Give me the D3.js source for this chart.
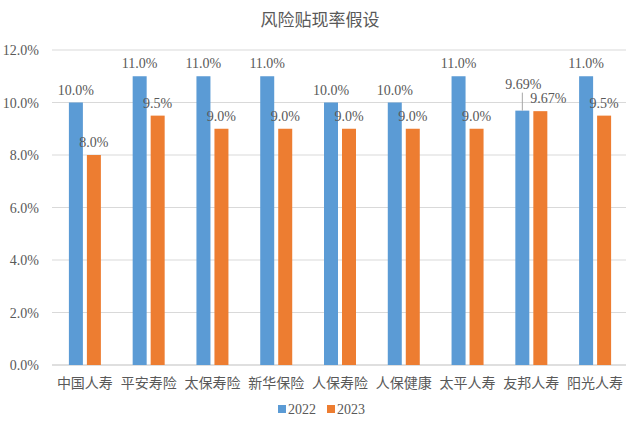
<!DOCTYPE html>
<html>
<head>
<meta charset="utf-8">
<script src="https://cdn.jsdelivr.net/npm/d3@7"></script>
<style>
  body { margin: 0; background: #fff; }
  text { font-family: "Liberation Serif", "Noto Sans CJK SC", serif; fill: #595959; }
</style>
</head>
<body>
<svg id="chart" width="640" height="430"></svg>
<script>
var categories = ['中国人寿', '平安寿险', '太保寿险', '新华保险', '人保寿险', '人保健康', '太平人寿', '友邦人寿', '阳光人寿'];
var years = ['2022', '2023'];
var values2022 = [10.0, 11.0, 11.0, 11.0, 10.0, 10.0, 11.0, 9.69, 11.0];
var values2023 = [8.0, 9.5, 9.0, 9.0, 9.0, 9.0, 9.0, 9.67, 9.5];
var labels2022 = ['10.0%', '11.0%', '11.0%', '11.0%', '10.0%', '10.0%', '11.0%', '9.69%', '11.0%'];
var labels2023 = ['8.0%', '9.5%', '9.0%', '9.0%', '9.0%', '9.0%', '9.0%', '9.67%', '9.5%'];
var yTicks = [0, 2, 4, 6, 8, 10, 12];
var colors = ['#5B9BD5', '#ED7D31'];

var svg = d3.select('#chart');
var plotL = 52, plotR = 626, plotT = 50, plotB = 365;

var x = d3.scaleBand().domain(categories).range([plotL, plotR]);
var y = d3.scaleLinear().domain([0, 12]).range([plotB, plotT]);
var barW = 14, gap = 4;

// title
svg.append('text')
  .attr('x', 320).attr('y', 26)
  .attr('text-anchor', 'middle')
  .style('font-size', '17px')
  .text('风险贴现率假设');

// gridlines
svg.selectAll('.grid')
  .data(yTicks)
  .enter()
  .append('line')
  .attr('x1', plotL).attr('x2', plotR)
  .attr('y1', function(d) { return y(d); })
  .attr('y2', function(d) { return y(d); })
  .attr('stroke', function(d) { return d === 0 ? '#bfbfbf' : '#d9d9d9'; })
  .attr('stroke-width', 1);

// y axis labels
svg.selectAll('.ytick')
  .data(yTicks)
  .enter()
  .append('text')
  .attr('x', 39).attr('y', function(d) { return y(d) + 5; })
  .attr('text-anchor', 'end')
  .style('font-size', '14px')
  .text(function(d) { return d.toFixed(1) + '%'; });

// x axis labels
svg.selectAll('.xtick')
  .data(categories)
  .enter()
  .append('text')
  .attr('x', function(d) { return x(d) + x.bandwidth() / 2 + 1; })
  .attr('y', plotB + 23)
  .attr('text-anchor', 'middle')
  .style('font-size', '14px')
  .text(function(d) { return d; });

var series = [values2022, values2023];
var labels = [labels2022, labels2023];

series.forEach(function(vals, s) {
  var off = s === 0 ? -gap / 2 - barW : gap / 2;
  svg.selectAll('.bar' + s)
    .data(vals)
    .enter()
    .append('rect')
    .attr('x', function(d, i) { return x(categories[i]) + x.bandwidth() / 2 + off + 1; })
    .attr('y', function(d) { return y(d); })
    .attr('width', barW)
    .attr('height', function(d) { return plotB - y(d); })
    .attr('fill', colors[s]);

  svg.selectAll('.lbl' + s)
    .data(vals)
    .enter()
    .append('text')
    .attr('x', function(d, i) {
      var cx = x(categories[i]) + x.bandwidth() / 2 + off + barW / 2 + 1;
      if (i === 7) cx += s === 0 ? 1 : 8;
      return cx;
    })
    .attr('y', function(d, i) {
      if (i === 7) return y(d) - (s === 0 ? 22 : 8);
      return y(d) - 8;
    })
    .attr('text-anchor', 'middle')
    .style('font-size', '14px')
    .text(function(d, i) { return labels[s][i]; });
});

// leader line for 9.69%
var ci = 7;
var lx = x(categories[ci]) + x.bandwidth() / 2 - gap / 2 - barW / 2 + 1;
svg.append('line')
  .attr('x1', lx).attr('x2', lx)
  .attr('y1', y(values2022[ci]) - 18).attr('y2', y(values2022[ci]))
  .attr('stroke', '#a6a6a6').attr('stroke-width', 1);

// legend
var legend = svg.append('g');
years.forEach(function(yr, i) {
  var lxp = 278 + i * 49;
  legend.append('rect')
    .attr('x', lxp).attr('y', 405)
    .attr('width', 8).attr('height', 8)
    .attr('fill', colors[i]);
  legend.append('text')
    .attr('x', lxp + 10).attr('y', 414)
    .style('font-size', '14px')
    .text(yr);
});
</script>
</body>
</html>
